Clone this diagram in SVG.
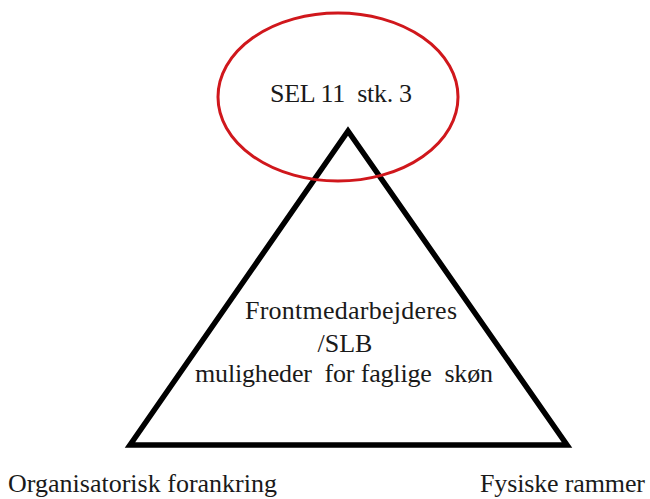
<svg xmlns="http://www.w3.org/2000/svg" width="650" height="499" viewBox="0 0 650 499">
<style>
text{font-family:"Liberation Serif","Times New Roman",serif;fill:#1a1a1a;font-size:26px}
.c{text-anchor:middle}
</style>
<rect width="650" height="499" fill="#fff"/>
<g id="triangle">
<polygon points="348,131 130,445 567,445" fill="none" stroke="#000" stroke-width="5.5" stroke-linejoin="miter"/>
<text class="c" x="351" y="319" textLength="212" lengthAdjust="spacing">Frontmedarbejderes</text>
<text class="c" x="345" y="352">/SLB</text>
<text class="c" x="344" y="382" textLength="298" lengthAdjust="spacing" xml:space="preserve">muligheder  for faglige  skøn</text>
</g>
<g id="sel">
<ellipse cx="338" cy="97" rx="120" ry="84" fill="none" stroke="#d0171c" stroke-width="3"/>
<text class="c" x="341" y="102" textLength="142" lengthAdjust="spacing" xml:space="preserve">SEL 11  stk. 3</text>
</g>
<g id="org">
<text x="8" y="492" textLength="269" lengthAdjust="spacing">Organisatorisk forankring</text>
</g>
<g id="fys">
<text x="480" y="492" textLength="165" lengthAdjust="spacing">Fysiske rammer</text>
</g>
<g id="connectors"></g>
</svg>
